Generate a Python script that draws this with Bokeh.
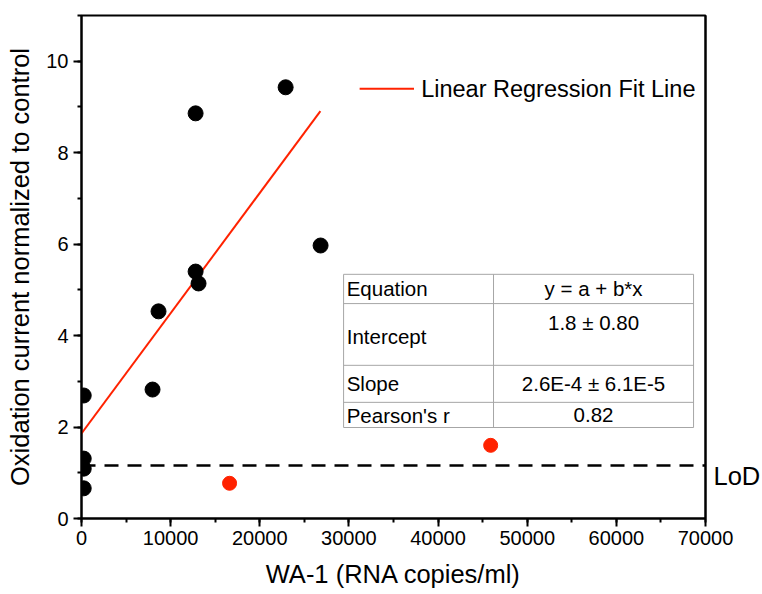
from bokeh.plotting import figure
from bokeh.models import FixedTicker, Range1d, Label, LinearAxis
from bokeh.embed import file_html
from bokeh.resources import INLINE

# ---- data ----
x_black = [250, 250, 250, 250, 7970, 8640, 12800, 13130, 12800, 22900, 26820]
y_black = [0.66, 1.09, 1.31, 2.69, 2.82, 4.53, 5.40, 5.14, 8.86, 9.43, 5.97]
x_red = [16610, 45900]
y_red = [0.77, 1.60]
fit_intercept = 1.86
fit_slope = 2.63e-4
fit_x = [0, 26800]
fit_y = [fit_intercept + fit_slope * v for v in fit_x]
lod_value = 1.16
x_ticks = [0, 10000, 20000, 30000, 40000, 50000, 60000, 70000]
y_ticks = [0, 2, 4, 6, 8, 10]
table_rows = ["Equation", "Intercept", "Slope", "Pearson's r"]
table_vals = ["y = a + b*x", "1.8 \u00b1 0.80", "2.6E-4 \u00b1 6.1E-5", "0.82"]

FONT = "Liberation Sans"
RED = "#ff2200"

p = figure(frame_width=624, frame_height=503, output_backend="svg", toolbar_location=None,
           x_range=Range1d(0, 70000), y_range=Range1d(0, 11),
           min_border_left=81, min_border_top=15, min_border_bottom=76, min_border_right=0)
p.background_fill_color = "white"
p.border_fill_color = "white"
p.outline_line_color = "black"
p.outline_line_width = 2
p.xgrid.visible = False
p.ygrid.visible = False

# axes
for ax in (p.xaxis[0], p.yaxis[0]):
    ax.axis_line_width = 2
    ax.major_tick_line_width = 2
    ax.minor_tick_line_width = 2
    ax.major_tick_in = 0
    ax.minor_tick_in = 0
    ax.major_tick_out = 8
    ax.minor_tick_out = 4
    ax.major_label_text_font = FONT
    ax.major_label_text_font_size = "20px"
    ax.major_label_text_color = "black"
    ax.axis_label_text_font = FONT
    ax.axis_label_text_font_size = "25.5px"
    ax.axis_label_text_font_style = "normal"
    ax.axis_label_text_color = "black"

p.xaxis[0].ticker = FixedTicker(ticks=x_ticks, minor_ticks=[5000 * i for i in range(15)])
p.yaxis[0].ticker = FixedTicker(ticks=y_ticks, minor_ticks=list(range(12)))
p.xaxis[0].major_label_standoff = 4
p.yaxis[0].major_label_standoff = 5
p.xaxis[0].axis_label = "WA-1 (RNA copies/ml)"
p.yaxis[0].axis_label = "Oxidation current normalized to control"
p.xaxis[0].axis_label_standoff = 12
p.yaxis[0].axis_label_standoff = 9

# right axis carrying the "LoD" text (set slightly below the dashed line)
lod_label_pos = lod_value - 0.24
rax = LinearAxis(ticker=FixedTicker(ticks=[lod_label_pos], minor_ticks=[]),
                 major_label_overrides={lod_label_pos: "LoD"})
rax.axis_line_width = 2
rax.major_tick_line_color = None
rax.major_tick_in = 0
rax.major_tick_out = 0
rax.minor_tick_out = 0
rax.minor_tick_in = 0
rax.major_label_standoff = 8
rax.major_label_text_font = FONT
rax.major_label_text_font_size = "25.5px"
rax.major_label_text_color = "black"
p.add_layout(rax, "right")

# LoD dashed line
p.line([0, 70000], [lod_value, lod_value], line_color="black", line_width=2.5, line_dash="14 9")

# fit line
p.line(fit_x, fit_y, line_color=RED, line_width=2)

# points
p.scatter(x_black, y_black, size=15, fill_color="black", line_color="black")
p.scatter(x_red, y_red, size=14, fill_color=RED, line_color=RED)

# legend (manual)
p.line([31200, 37300], [9.40, 9.40], line_color=RED, line_width=2)
p.add_layout(Label(x=38100, y=9.40, text="Linear Regression Fit Line", text_font=FONT,
                   text_font_size="23.5px", text_baseline="middle", text_color="black"))

# table
tl, tm, tr = 29400, 46220, 68660
row_edges = [5.34, 4.70, 3.35, 2.54, 1.99]
p.quad(left=[tl], right=[tr], top=[row_edges[0]], bottom=[row_edges[-1]],
       fill_color="white", line_color="#a6a6a6", line_width=1)
p.segment(x0=[tl] * 3, x1=[tr] * 3, y0=row_edges[1:4], y1=row_edges[1:4],
          line_color="#a6a6a6", line_width=1)
p.segment(x0=[tm], x1=[tm], y0=[row_edges[0]], y1=[row_edges[-1]],
          line_color="#a6a6a6", line_width=1)

left_y = [5.02, 3.99, 2.95, 2.26]
right_y = [5.02, 4.29, 2.95, 2.26]
for name, val, ly, ry in zip(table_rows, table_vals, left_y, right_y):
    p.add_layout(Label(x=29750, y=ly, text=name, text_font=FONT, text_font_size="20.5px",
                       text_baseline="middle", text_color="black"))
    p.add_layout(Label(x=(tm + tr) / 2, y=ry, text=val, text_font=FONT, text_font_size="20.5px",
                       text_baseline="middle", text_align="center", text_color="black"))

open("out.html", "w").write(file_html(p, INLINE))
